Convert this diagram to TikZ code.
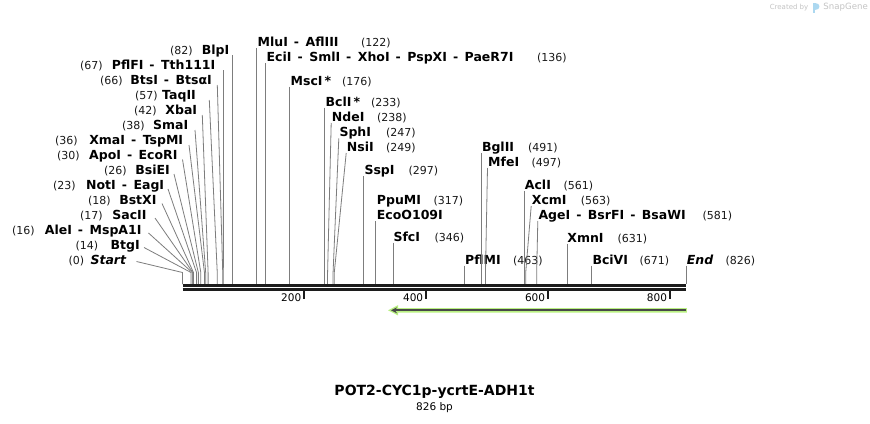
\documentclass[tikz,border=0pt]{standalone}
\usepackage{fontspec}
\setmainfont{DejaVu Sans}
\usetikzlibrary{arrows.meta}
\definecolor{sitegray}{RGB}{125,125,125}
\definecolor{axisblack}{RGB}{28,28,28}
\definecolor{featgreen}{RGB}{185,240,130}
\definecolor{featdark}{RGB}{72,72,72}
\definecolor{wmgray}{RGB}{196,196,196}
\definecolor{wmblue}{RGB}{172,216,240}
\definecolor{numcol}{RGB}{25,25,25}
\tikzset{
  enz/.style={inner sep=0pt, font=\fontsize{12.5}{14}\selectfont\bfseries},
  posn/.style={inner sep=0pt, text=numcol, font=\fontsize{11}{13}\selectfont},
  cutline/.style={draw=sitegray, line width=0.8pt},
  axisline/.style={draw=axisblack, line width=2.4pt},
  tickmark/.style={draw=axisblack, line width=2pt},
  ticklabel/.style={inner sep=0pt, font=\fontsize{10.5}{12}\selectfont},
}
\newcommand{\sx}[1]{182.5+0.6096*#1}
\newcommand{\dsh}{\hspace{6pt}-\hspace{6.5pt}}
% left labels: id, name, name right x, centre y, bp, number left x, line start x, line start y
\newcommand{\Lsite}[8]{%
  \node[enz, anchor=base east] (n#1) at (#3,{#4+4.5}) {#2};
  \node[posn, anchor=base west] (p#1) at (#6,{#4+4.5}) {(#5)};
  \coordinate (l#1) at ({#7},#8);
  \coordinate (k#1) at ({\sx{#5}},272.5);
  \coordinate (a#1) at ({\sx{#5}},284.2);
  \draw[cutline] (l#1) -- (k#1) -- (a#1);
}
% right labels: id, name, name left x, centre y, bp, number left x, line start x
\newcommand{\Rsite}[7]{%
  \node[enz, anchor=base west] (n#1) at (#3,{#4+4.5}) {#2};
  \node[posn, anchor=base west] (p#1) at (#6,{#4+4.5}) {(#5)};
  \coordinate (l#1) at ({#7},{#4+6});
  \coordinate (k#1) at ({\sx{#5}},272.5);
  \coordinate (a#1) at ({\sx{#5}},284.2);
  \draw[cutline] (l#1) -- (k#1) -- (a#1);
}
\begin{document}
\begin{tikzpicture}[x=1pt,y=-1pt]
\fill[white] (0,0) rectangle (870,423);
\useasboundingbox (0,0) rectangle (870,423);

% left fan
\Lsite{blp}{BlpI}{229.5}{49.5}{82}{170}{\sx{82}}{55}
\Lsite{pfl}{PflFI\dsh Tth111I}{215.5}{64.5}{67}{80}{223.5}{70}
\Lsite{bts}{BtsI\dsh BtsαI}{212}{79.5}{66}{100}{217.3}{85}
\Lsite{taq}{TaqII}{196}{94.5}{57}{135}{209.3}{100}
\Lsite{xba}{XbaI}{197.3}{109.5}{42}{134}{202.3}{115}
\Lsite{sma}{SmaI}{188.5}{124.5}{38}{122}{195}{130}
\Lsite{xma}{XmaI\dsh TspMI}{183.3}{139.5}{36}{55}{189}{145}
\Lsite{apo}{ApoI\dsh EcoRI}{177.7}{154.5}{30}{57}{182.5}{159.5}
\Lsite{bsi}{BsiEI}{170}{169.5}{26}{104}{174}{174}
\Lsite{not}{NotI\dsh EagI}{164.3}{184.5}{23}{53}{168}{189}
\Lsite{bst}{BstXI}{156.7}{199.5}{18}{88}{162}{203.5}
\Lsite{sac}{SacII}{146.7}{214.5}{17}{80}{155}{218}
\Lsite{ale}{AleI\dsh MspA1I}{141.7}{229.5}{16}{12}{148.5}{233}
\Lsite{btg}{BtgI}{140}{244.5}{14}{75.5}{144}{247.5}
\Lsite{start}{\textit{Start}}{126.7}{259.5}{0}{68.5}{136.5}{261.5}

% right labels
\Rsite{mlu}{MluI\dsh AflIII}{257.5}{42.3}{122}{361}{\sx{122}}
\Rsite{eci}{EciI\dsh SmlI\dsh XhoI\dsh PspXI\dsh PaeR7I}{266.5}{57}{136}{537}{\sx{136}}
\Rsite{msc}{MscI\hspace{2pt}*}{290.5}{80.5}{176}{342}{\sx{176}}
\Rsite{bcl}{BclI\hspace{2pt}*}{325.5}{101.7}{233}{371}{\sx{233}}
\Rsite{nde}{NdeI}{331.7}{117}{238}{377}{331.2}
\Rsite{sph}{SphI}{339.3}{132.3}{247}{386}{338.8}
\Rsite{nsi}{NsiI}{346.7}{147}{249}{386}{346.2}
\Rsite{ssp}{SspI}{364.3}{170}{297}{408.5}{\sx{297}}
\node[enz, anchor=base west] (nppu) at (376.7,204.5) {PpuMI};
\node[posn, anchor=base west] (pppu) at (433.3,204.5) {(317)};
\node[enz, anchor=base west] (neco) at (376.7,219.5) {EcoO109I};
\coordinate (lppu) at ({\sx{317}},221);
\coordinate (appu) at ({\sx{317}},284.2);
\draw[cutline] (lppu) -- (appu);
\Rsite{sfc}{SfcI}{393.3}{236.7}{346}{434.3}{\sx{346}}
\Rsite{pflm}{PflMI}{465}{259.5}{463}{513}{\sx{463}}
\Rsite{bgl}{BglII}{481.8}{147}{491}{528}{\sx{491}}
\Rsite{mfe}{MfeI}{488}{162}{497}{531.5}{487.5}
\Rsite{acl}{AclI}{524.7}{185}{561}{563.3}{\sx{561}}
\Rsite{xcm}{XcmI}{531.7}{200}{563}{580.7}{531.2}
\Rsite{age}{AgeI\dsh BsrFI\dsh BsaWI}{538.3}{215}{581}{702.3}{537.8}
\Rsite{xmn}{XmnI}{567.2}{237.7}{631}{617.3}{\sx{631}}
\Rsite{bci}{BciVI}{592.3}{259.5}{671}{639.3}{\sx{671}}
\Rsite{end}{\textit{End}}{686.7}{259.5}{826}{725.3}{\sx{826}}

% sequence axis
\coordinate (ax0) at ({\sx{0}},285.4);
\coordinate (ax1) at ({\sx{826}},285.4);
\coordinate (bx0) at ({\sx{0}},289.6);
\coordinate (bx1) at ({\sx{826}},289.6);
\draw[axisline] (ax0) -- (ax1);
\draw[axisline] (bx0) -- (bx1);
\foreach \t in {200,400,600,800}{
  \coordinate (t\t a) at ({\sx{\t}},290.8);
  \coordinate (t\t b) at ({\sx{\t}},299);
  \draw[tickmark] (t\t a) -- (t\t b);
  \node[ticklabel, anchor=base east] (tl\t) at ({\sx{\t}-3},301.5) {\t};
}

% feature arrow
\coordinate (fe) at (686.5,310.3);
\coordinate (fs) at (388,310.3);
\fill[featgreen] (686.8,308) -- (398,308) -- (398,305.2) -- (fs) -- (398,315.4) -- (398,312.6) -- (686.8,312.6) -- cycle;
\coordinate (de) at (685.5,310.3);
\coordinate (ds) at (391,310.3);
\draw[featdark, line width=1.8pt, -{Stealth[length=6pt,width=6pt]}] (de) -- (ds);

% title
\node[inner sep=0pt, font=\fontsize{14}{16}\selectfont\bfseries] (title) at (434.5,392) {POT2-CYC1p-ycrtE-ADH1t};
\node[inner sep=0pt, font=\fontsize{10.5}{12}\selectfont] (len) at (434.5,407.5) {826 bp};

% watermark
\node[inner sep=0pt, text=wmgray, font=\fontsize{7}{9}\selectfont, anchor=east] (wm1) at (808.5,7.5) {Created by};
\fill[wmblue] (812.5,2.5) rectangle (815.3,13);
\fill[wmblue] (815.3,2.5) .. controls (820.5,2.5) and (820.5,9.5) .. (815.3,9.5) -- cycle;
\node[inner sep=0pt, text=wmgray, font=\fontsize{8.6}{10}\selectfont, anchor=east] (wm2) at (868,7.5) {SnapGene};
\end{tikzpicture}
\end{document}
